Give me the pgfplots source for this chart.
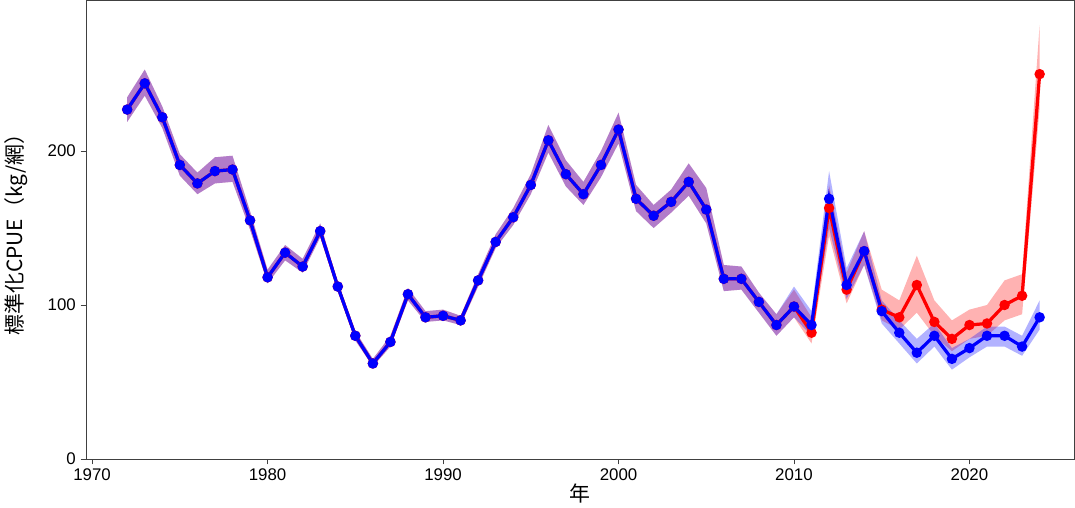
\documentclass[border=0pt]{standalone}
\usepackage{pgfplots}
\usepackage{pgfplotstable}
\pgfplotsset{compat=1.18}
\usepgfplotslibrary{fillbetween}
\usepackage{fontspec}
\setmainfont{Liberation Sans}
\newfontfamily\cjk{Noto Sans CJK JP}
\pgfplotstableread{
x b bl bu
1972 227 219 235
1973 244 236 253
1974 222 215 229
1975 191 184 198
1976 179 172 186
1977 187 179 196
1978 188 180 197
1979 155 149 161
1980 118 114 123
1981 134 129 139
1982 125 121 130
1983 148 144 153
1984 112 109 115
1985 80 77 83
1986 62 60 65
1987 76 73 80
1988 107 103 111
1989 92 89 96
1990 93 90 97
1991 90 87 93
1992 116 112 120
1993 141 137 146
1994 157 152 163
1995 178 172 185
1996 207 199 217
1997 185 177 194
1998 172 165 180
1999 191 183 200
2000 214 205 225
2001 169 161 178
2002 158 150 165
2003 167 160 175
2004 180 171 192
2005 162 153 176
2006 117 109 126
2007 117 110 125
2008 102 95 108
2009 87 80 94
2010 99 92 112
2011 87 80 96
2012 169 150 187
2013 113 104 124
2014 135 126 148
2015 96 88 103
2016 82 75 90
2017 69 62 78
2018 80 73 88
2019 65 58 72
2020 72 66 78
2021 80 73 86
2022 80 73 86
2023 73 67 80
2024 92 84 103
}\blue
\pgfplotstableread{
x r rl ru
1972 227 219 235
1973 244 236 253
1974 222 215 229
1975 191 184 198
1976 179 172 186
1977 187 179 196
1978 188 180 197
1979 155 149 161
1980 118 114 123
1981 134 129 139
1982 125 121 130
1983 148 144 153
1984 112 109 115
1985 80 77 83
1986 62 60 65
1987 76 73 80
1988 107 103 111
1989 92 89 96
1990 93 90 97
1991 90 87 93
1992 116 112 120
1993 141 137 146
1994 157 152 163
1995 178 172 185
1996 207 199 217
1997 185 177 194
1998 172 165 180
1999 191 183 200
2000 214 205 225
2001 169 161 178
2002 158 150 165
2003 167 160 175
2004 180 171 192
2005 162 153 176
2006 117 109 126
2007 117 110 125
2008 102 95 108
2009 87 80 94
2010 99 92 110
2011 82 75 92
2012 163 145 178
2013 110 101 121
2014 135 126 148
2015 97 90 110
2016 92 84 103
2017 113 95 132
2018 89 80 103
2019 78 70 90
2020 87 78 97
2021 88 80 100
2022 100 90 116
2023 106 94 120
2024 250 228 282
}\red
\begin{document}
\begin{tikzpicture}
\begin{axis}[scale only axis, width=733pt, height=340pt,
  xmin=1969.65, xmax=2026, ymin=0, ymax=298,
  xtick={1970,1980,...,2020}, ytick={0,100,200},
  tick align=outside, tick pos=lower, axis line style={black!75}, tick style={black!75},
  major tick length=4pt,
  /pgf/number format/1000 sep={},
  /pgf/number format/assume math mode=true,
  tick label style={font=\fontsize{12.5}{14}\selectfont, text=black},
  xlabel={\cjk 年}, ylabel={\cjk 標準化CPUE（kg/網）},
  label style={font=\fontsize{15.5}{17}\selectfont},
  xlabel style={yshift=5pt}, ylabel style={yshift=8pt},
  clip=false]
\addplot[name path=ru, draw=none] table[x=x,y=ru]{\red};
\addplot[name path=rl, draw=none] table[x=x,y=rl]{\red};
\addplot[red, fill opacity=0.3] fill between[of=ru and rl];
\addplot[name path=bu, draw=none] table[x=x,y=bu]{\blue};
\addplot[name path=bl, draw=none] table[x=x,y=bl]{\blue};
\addplot[blue, fill opacity=0.3] fill between[of=bu and bl];
\addplot[red, line width=2.4pt, mark=*, mark size=2.6pt] table[x=x,y=r]{\red};
\addplot[blue, line width=2.4pt, mark=*, mark size=2.6pt] table[x=x,y=b]{\blue};
\end{axis}
\end{tikzpicture}
\end{document}
